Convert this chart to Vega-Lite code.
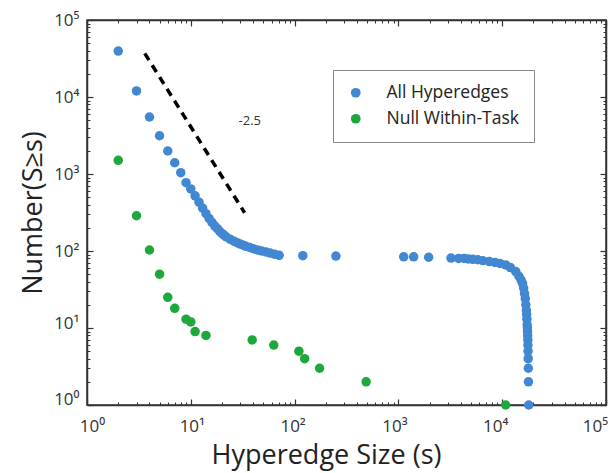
{
  "$schema": "https://vega.github.io/schema/vega-lite/v6.json",
  "width": 519,
  "height": 385,
  "autosize": "none",
  "padding": {"left": 87, "top": 20, "right": 7, "bottom": 68},
  "background": "white",
  "config": {
    "view": {"stroke": "#333", "strokeWidth": 1.5},
    "font": "Open Sans",
    "axis": {"grid": false, "domainColor": "#333", "domainWidth": 1.5, "tickColor": "#333", "labelFont": "Open Sans", "labelFontSize": 17, "labelColor": "#333", "titleFont": "Open Sans", "titleFontWeight": "normal", "titleColor": "#222"}
  },
  "datasets": {
    "pts": [
      {"s": 2, "N": 39500, "series": "All Hyperedges"},
      {"s": 3, "N": 12000, "series": "All Hyperedges"},
      {"s": 4, "N": 5500, "series": "All Hyperedges"},
      {"s": 5, "N": 3140, "series": "All Hyperedges"},
      {"s": 6, "N": 1990, "series": "All Hyperedges"},
      {"s": 7, "N": 1400, "series": "All Hyperedges"},
      {"s": 8, "N": 1040, "series": "All Hyperedges"},
      {"s": 9, "N": 771, "series": "All Hyperedges"},
      {"s": 10, "N": 640, "series": "All Hyperedges"},
      {"s": 11, "N": 520, "series": "All Hyperedges"},
      {"s": 12, "N": 430, "series": "All Hyperedges"},
      {"s": 13, "N": 360, "series": "All Hyperedges"},
      {"s": 14, "N": 305, "series": "All Hyperedges"},
      {"s": 15, "N": 265, "series": "All Hyperedges"},
      {"s": 16, "N": 235, "series": "All Hyperedges"},
      {"s": 17, "N": 212, "series": "All Hyperedges"},
      {"s": 18, "N": 195, "series": "All Hyperedges"},
      {"s": 19, "N": 180, "series": "All Hyperedges"},
      {"s": 20, "N": 168, "series": "All Hyperedges"},
      {"s": 21, "N": 160, "series": "All Hyperedges"},
      {"s": 22, "N": 152, "series": "All Hyperedges"},
      {"s": 24, "N": 142, "series": "All Hyperedges"},
      {"s": 26, "N": 134, "series": "All Hyperedges"},
      {"s": 28, "N": 128, "series": "All Hyperedges"},
      {"s": 30, "N": 123, "series": "All Hyperedges"},
      {"s": 32, "N": 119, "series": "All Hyperedges"},
      {"s": 34, "N": 115, "series": "All Hyperedges"},
      {"s": 37, "N": 111, "series": "All Hyperedges"},
      {"s": 40, "N": 107, "series": "All Hyperedges"},
      {"s": 44, "N": 103, "series": "All Hyperedges"},
      {"s": 48, "N": 100, "series": "All Hyperedges"},
      {"s": 53, "N": 97, "series": "All Hyperedges"},
      {"s": 58, "N": 94, "series": "All Hyperedges"},
      {"s": 64, "N": 91, "series": "All Hyperedges"},
      {"s": 71, "N": 88, "series": "All Hyperedges"},
      {"s": 120, "N": 87, "series": "All Hyperedges"},
      {"s": 250, "N": 86, "series": "All Hyperedges"},
      {"s": 1125, "N": 84, "series": "All Hyperedges"},
      {"s": 1403, "N": 84, "series": "All Hyperedges"},
      {"s": 1956, "N": 83, "series": "All Hyperedges"},
      {"s": 3210, "N": 81, "series": "All Hyperedges"},
      {"s": 3800, "N": 80, "series": "All Hyperedges"},
      {"s": 4300, "N": 80, "series": "All Hyperedges"},
      {"s": 4700, "N": 79, "series": "All Hyperedges"},
      {"s": 5200, "N": 78, "series": "All Hyperedges"},
      {"s": 5800, "N": 77, "series": "All Hyperedges"},
      {"s": 6500, "N": 75, "series": "All Hyperedges"},
      {"s": 7500, "N": 73, "series": "All Hyperedges"},
      {"s": 8500, "N": 71, "series": "All Hyperedges"},
      {"s": 9500, "N": 69, "series": "All Hyperedges"},
      {"s": 10800, "N": 66, "series": "All Hyperedges"},
      {"s": 12000, "N": 61, "series": "All Hyperedges"},
      {"s": 13500, "N": 54, "series": "All Hyperedges"},
      {"s": 14500, "N": 47, "series": "All Hyperedges"},
      {"s": 15200, "N": 42, "series": "All Hyperedges"},
      {"s": 15700, "N": 38, "series": "All Hyperedges"},
      {"s": 16100, "N": 33, "series": "All Hyperedges"},
      {"s": 16400, "N": 28, "series": "All Hyperedges"},
      {"s": 16700, "N": 24, "series": "All Hyperedges"},
      {"s": 16900, "N": 20, "series": "All Hyperedges"},
      {"s": 17100, "N": 17, "series": "All Hyperedges"},
      {"s": 17200, "N": 15, "series": "All Hyperedges"},
      {"s": 17300, "N": 13, "series": "All Hyperedges"},
      {"s": 17400, "N": 11, "series": "All Hyperedges"},
      {"s": 17500, "N": 10, "series": "All Hyperedges"},
      {"s": 17550, "N": 9, "series": "All Hyperedges"},
      {"s": 17600, "N": 8, "series": "All Hyperedges"},
      {"s": 17650, "N": 7, "series": "All Hyperedges"},
      {"s": 17700, "N": 6, "series": "All Hyperedges"},
      {"s": 17750, "N": 5, "series": "All Hyperedges"},
      {"s": 17800, "N": 4, "series": "All Hyperedges"},
      {"s": 17850, "N": 3, "series": "All Hyperedges"},
      {"s": 17900, "N": 2, "series": "All Hyperedges"},
      {"s": 18000, "N": 1, "series": "All Hyperedges"},
      {"s": 2, "N": 1506, "series": "Null Within-Task"},
      {"s": 3, "N": 287, "series": "Null Within-Task"},
      {"s": 4, "N": 103, "series": "Null Within-Task"},
      {"s": 5, "N": 50, "series": "Null Within-Task"},
      {"s": 6, "N": 25, "series": "Null Within-Task"},
      {"s": 7, "N": 18, "series": "Null Within-Task"},
      {"s": 9, "N": 13, "series": "Null Within-Task"},
      {"s": 10, "N": 12, "series": "Null Within-Task"},
      {"s": 11, "N": 9, "series": "Null Within-Task"},
      {"s": 14, "N": 8, "series": "Null Within-Task"},
      {"s": 39, "N": 7, "series": "Null Within-Task"},
      {"s": 63, "N": 6, "series": "Null Within-Task"},
      {"s": 110, "N": 5, "series": "Null Within-Task"},
      {"s": 125, "N": 4, "series": "Null Within-Task"},
      {"s": 174, "N": 3, "series": "Null Within-Task"},
      {"s": 489, "N": 2, "series": "Null Within-Task"},
      {"s": 10800, "N": 1, "series": "Null Within-Task"}
    ],
    "fit": [
      {"s": 3.6, "N": 36900},
      {"s": 33, "N": 314}
    ],
    "note": [
      {"s": 37, "N": 4880, "label": "-2.5"}
    ]
  },
  "resolve": {"axis": {"x": "independent", "y": "independent"}},
  "layer": [
    {
      "data": {"name": "pts"},
      "transform": [{"filter": "datum.series == 'All Hyperedges'"}],
      "mark": {"type": "circle", "size": 90, "opacity": 1, "clip": false},
      "encoding": {
        "x": {"field": "s", "type": "quantitative", "scale": {"type": "log", "domain": [1, 100000], "nice": false},
          "axis": {"orient": "bottom", "title": "Hyperedge Size (s)", "titleFontSize": 27, "titlePadding": 8, "titleX": 239, "values": [1, 10, 100, 1000, 10000, 100000], "tickSize": -6, "tickWidth": 1.2, "labelPadding": 19, "labelExpr": "'10' + ['⁰','¹','²','³','⁴','⁵'][round(log(datum.value)/LN10)]", "labelFlush": false,
            "labelOffset": {"condition": [{"test": "datum.value == 1", "value": 5}, {"test": "datum.value == 100", "value": -2}, {"test": "datum.value == 1000", "value": -4}, {"test": "datum.value == 10000", "value": -7}, {"test": "datum.value == 100000", "value": -11}], "value": 1}}},
        "y": {"field": "N", "type": "quantitative", "scale": {"type": "log", "domain": [1, 100000], "nice": false},
          "axis": {"orient": "left", "title": "Number(S≥s)", "titleFontSize": 27, "titlePadding": 6, "values": [1, 10, 100, 1000, 10000, 100000], "tickSize": -6, "tickWidth": 1.2, "labelPadding": 14, "labelExpr": "'10' + ['⁰','¹','²','³','⁴','⁵'][round(log(datum.value)/LN10)]", "labelFlush": false,
            "labelOffset": {"condition": [{"test": "datum.value == 1", "value": -6}, {"test": "datum.value == 10", "value": -5}], "value": 0}}},
        "color": {"field": "series", "type": "nominal", "scale": {"domain": ["All Hyperedges", "Null Within-Task"], "range": ["#4287d1", "#1ea83c"]},
          "legend": {"title": null, "orient": "none", "legendX": 246, "legendY": 50, "strokeColor": "#888", "fillColor": "white", "padding": 14, "labelFontSize": 17.5, "labelFont": "Open Sans", "labelColor": "#222", "symbolType": "circle", "symbolSize": 95, "labelOffset": 22, "rowPadding": 7, "symbolOpacity": 1}}
      }
    },
    {
      "data": {"name": "pts"},
      "transform": [{"filter": "datum.series == 'Null Within-Task'"}],
      "mark": {"type": "circle", "size": 90, "opacity": 1, "clip": false},
      "encoding": {
        "x": {"field": "s", "type": "quantitative", "scale": {"type": "log", "domain": [1, 100000], "nice": false},
          "axis": {"orient": "bottom", "title": null, "labels": false, "domain": false, "values": [2,3,4,5,6,7,8,9,20,30,40,50,60,70,80,90,200,300,400,500,600,700,800,900,2000,3000,4000,5000,6000,7000,8000,9000,20000,30000,40000,50000,60000,70000,80000,90000], "tickSize": -3, "tickWidth": 1}},
        "y": {"field": "N", "type": "quantitative", "scale": {"type": "log", "domain": [1, 100000], "nice": false},
          "axis": {"orient": "left", "title": null, "labels": false, "domain": false, "values": [2,3,4,5,6,7,8,9,20,30,40,50,60,70,80,90,200,300,400,500,600,700,800,900,2000,3000,4000,5000,6000,7000,8000,9000,20000,30000,40000,50000,60000,70000,80000,90000], "tickSize": -3, "tickWidth": 1}},
        "color": {"field": "series", "type": "nominal"}
      }
    },
    {
      "data": {"name": "fit"},
      "mark": {"type": "line", "color": "black", "strokeWidth": 3.5, "strokeDash": [8, 6]},
      "encoding": {
        "x": {"field": "s", "type": "quantitative", "scale": {"type": "log", "domain": [1, 100000], "nice": false},
          "axis": {"orient": "top", "title": null, "labels": false, "values": [1, 10, 100, 1000, 10000, 100000], "tickSize": -6, "tickWidth": 1.2}},
        "y": {"field": "N", "type": "quantitative", "scale": {"type": "log", "domain": [1, 100000], "nice": false},
          "axis": {"orient": "right", "title": null, "labels": false, "values": [1, 10, 100, 1000, 10000, 100000], "tickSize": -6, "tickWidth": 1.2}}
      }
    },
    {
      "data": {"name": "note"},
      "mark": {"type": "text", "fontSize": 13, "font": "Open Sans", "color": "#333"},
      "encoding": {
        "x": {"field": "s", "type": "quantitative", "scale": {"type": "log", "domain": [1, 100000], "nice": false},
          "axis": {"orient": "top", "title": null, "labels": false, "domain": false, "values": [2,3,4,5,6,7,8,9,20,30,40,50,60,70,80,90,200,300,400,500,600,700,800,900,2000,3000,4000,5000,6000,7000,8000,9000,20000,30000,40000,50000,60000,70000,80000,90000], "tickSize": -3, "tickWidth": 1}},
        "y": {"field": "N", "type": "quantitative", "scale": {"type": "log", "domain": [1, 100000], "nice": false},
          "axis": {"orient": "right", "title": null, "labels": false, "domain": false, "values": [2,3,4,5,6,7,8,9,20,30,40,50,60,70,80,90,200,300,400,500,600,700,800,900,2000,3000,4000,5000,6000,7000,8000,9000,20000,30000,40000,50000,60000,70000,80000,90000], "tickSize": -3, "tickWidth": 1}},
        "text": {"field": "label"}
      }
    }
  ]
}
